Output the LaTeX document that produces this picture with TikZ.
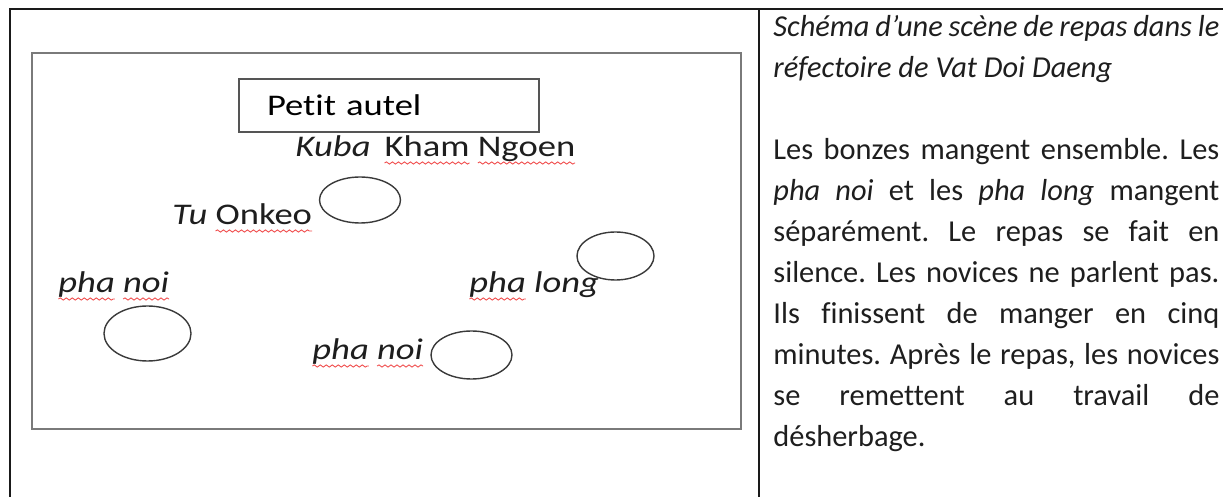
\documentclass[tikz,border=0pt]{standalone}
\usepackage{fontspec}
\usetikzlibrary{shapes.geometric,decorations.pathmorphing}
\setmainfont{Carlito}[Ligatures=NoCommon]
\newfontfamily\planfont{Carlito}[FakeStretch=1.22,Ligatures=NoCommon]
\frenchspacing
\definecolor{tablerule}{HTML}{1A1A1A}
\definecolor{roomgrey}{HTML}{7A7A7A}
\definecolor{altargrey}{HTML}{555555}
\definecolor{seatgrey}{HTML}{3A3A3A}
\definecolor{spellred}{HTML}{F05050}
\definecolor{inkgrey}{HTML}{1E1E1E}
\newsavebox\spellbox
\newcommand\spell[1]{\sbox\spellbox{#1}\edef\spellwd{\the\wd\spellbox}%
  \rlap{\tikz[baseline=0pt,overlay]
    \draw[draw=spellred,line width=0.45pt,decorate,
          decoration={snake,amplitude=0.55pt,segment length=3pt}]
      (0pt,-3pt) -- (\spellwd,-3pt);}%
  \usebox\spellbox}

\begin{document}
\begin{tikzpicture}[x=0.5pt,y=-0.5pt,
  tabline/.style={draw=tablerule,line width=1pt},
  room/.style={draw=roomgrey,line width=1.25pt},
  altar/.style={draw=altargrey,line width=0.8pt,minimum height=26.5pt,
                inner xsep=14pt,inner ysep=0pt,text width=122pt,align=left,
                font=\planfont\fontsize{15pt}{18pt}\selectfont},
  seat/.style={ellipse,draw=seatgrey,line width=0.7pt,inner sep=0pt},
  lbl/.style={font=\planfont\fontsize{15pt}{18pt}\selectfont,text=inkgrey,
              inner sep=0pt,anchor=base west},
  notes/.style={font=\fontsize{15.2pt}{20.5pt}\selectfont,text=inkgrey,
                text width=223pt,align=justify,inner sep=0pt,anchor=base west}
]
\useasboundingbox (0,0) rectangle (1223,497);

% ---- Table --------------------------------------------------
\draw[tabline] (10,497) -- (10,9) -- (1223,9);
\draw[tabline] (759,9) -- (759,497);

% ---- Refectory ----------------------------------------------
\draw[room] (32,53) rectangle (741,429);
\node[altar] (altar) at (389,105.5) {Petit autel};

% ---- Seats --------------------------------------------------
\node[seat,minimum width=40.5pt,minimum height=23pt]   (seattu)   at (360,200)   {};
\node[seat,minimum width=43.5pt,minimum height=27.5pt] (seatnoia) at (147.5,333.5) {};
\node[seat,minimum width=40.5pt,minimum height=24pt]   (seatnoib) at (471.5,355) {};
\node[seat,minimum width=38.5pt,minimum height=24pt]   (seatlong) at (615.5,256) {};

% ---- Names --------------------------------------------------
\node[lbl] (kuba)  at (295,157) {\textit{Kuba}\hspace{7pt}\spell{Kham} \spell{Ngoen}};
\node[lbl] (tu)    at (172,225) {\textit{Tu} \spell{Onkeo}};
\node[lbl] (noia)  at (58,293)  {\textit{\spell{pha} \spell{noi}}};
\node[lbl] (long)  at (469,293) {\textit{\spell{pha} long}};
\node[lbl] (noib)  at (312,360) {\textit{\spell{pha} \spell{noi}}};

% ---- Caption ------------------------------------------------
\node[notes] (caption) at (773,37)
  {\textit{Schéma d’une scène de repas dans le\newline
   réfectoire de Vat Doi Daeng}\par\vspace{\baselineskip}
   Les bonzes mangent ensemble. Les\linebreak
   \textit{pha noi} et les \textit{pha long} mangent\linebreak
   séparément. Le repas se fait en\linebreak
   silence. Les novices ne parlent pas.\linebreak
   Ils finissent de manger en cinq\linebreak
   minutes. Après le repas, les novices\linebreak
   se remettent au travail de\linebreak
   désherbage.};

\end{tikzpicture}
\end{document}
